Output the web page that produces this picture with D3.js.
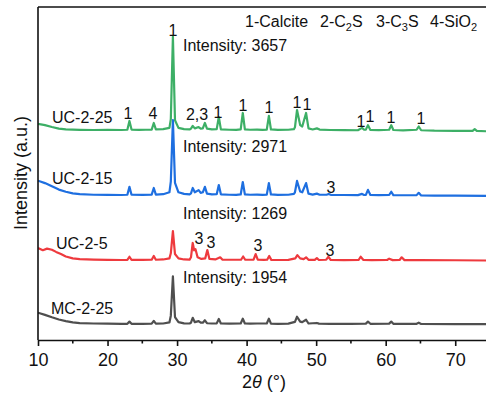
<!DOCTYPE html>
<html><head><meta charset="utf-8">
<script src="https://cdn.jsdelivr.net/npm/d3@7"></script>
<style>body{margin:0;background:#fff}svg{display:block;font-family:"Liberation Sans",Arial,sans-serif}</style>
</head><body><svg id="c" width="486" height="394"></svg>
<script>
// ---- data (2θ, counts) ----
const seriesNames = ["MC-2-25","UC-2-5","UC-2-15","UC-2-25"];
const seriesColors = ["#4f4f4f","#ee3a3e","#1e6fe0","#3daf66"];
const seriesOffsets = [400, 2760, 5165, 7570];
const peakIntensity = [1954, 1269, 2971, 3657];

const mc225 = [[10,610],[11,530],[12,440],[13,360],[14,300],[15,250],[16,225],[18,210],[20,205],[22,200],[22.85,200],[23.15,280],[23.45,200],[25,200],[26.35,205],[26.65,310],[26.95,205],[28,210],[28.9,250],[29.1,500],[29.4,1954],[29.7,450],[30.2,260],[31,215],[31.8,210],[32.0,240],[32.25,420],[32.55,260],[33.1,300],[33.4,240],[33.7,240],[34.0,330],[34.3,220],[35,210],[35.7,215],[36.0,380],[36.3,210],[37.5,205],[39.15,210],[39.45,390],[39.75,210],[40.5,205],[41.5,210],[42.9,210],[43.2,390],[43.5,205],[44.5,200],[46,205],[46.95,270],[47.25,460],[47.7,280],[48.0,260],[48.55,350],[48.9,210],[50.1,230],[50.4,205],[52,200],[55,200],[57.15,205],[57.45,280],[57.8,200],[60.5,205],[60.8,280],[61.1,200],[64.45,200],[64.75,240],[65.1,195],[70,190],[75,185]];

const uc25 = [[10,640],[10.7,560],[11.3,620],[12,580],[12.6,500],[13.3,420],[14,330],[15,260],[16,230],[18,215],[20,205],[22,200],[22.85,205],[23.15,320],[23.45,205],[25,205],[26.35,210],[26.65,350],[26.95,210],[28,220],[28.9,260],[29.1,450],[29.4,1269],[29.7,420],[30.2,260],[31,220],[31.8,215],[32.0,300],[32.25,830],[32.45,560],[32.65,600],[32.95,300],[33.5,240],[34.05,260],[34.35,570],[34.65,240],[35.5,220],[36.2,300],[36.5,215],[37.5,210],[39.2,210],[39.5,330],[39.8,210],[40.5,210],[41.0,215],[41.3,420],[41.6,210],[42.5,205],[42.95,210],[43.25,350],[43.55,205],[44.5,200],[46,205],[47.0,260],[47.3,380],[47.7,260],[48.2,230],[48.55,300],[48.9,205],[49.8,205],[50.1,270],[50.4,200],[51.45,210],[51.75,320],[52.1,200],[54,195],[56.1,200],[56.4,320],[56.8,200],[58,195],[60.2,200],[60.5,250],[61,195],[62.0,200],[62.3,300],[62.7,195],[65,195],[70,190],[75,180]];

const uc215 = [[10,730],[11,640],[12,520],[13,400],[14,320],[15,260],[16,230],[18,210],[20,205],[22,200],[22.85,210],[23.15,500],[23.45,210],[25,205],[26.35,215],[26.65,460],[26.95,215],[28,230],[28.9,300],[29.1,700],[29.4,2971],[29.7,650],[30.2,300],[31,240],[31.8,220],[32.0,260],[32.25,460],[32.55,300],[33.1,380],[33.4,280],[33.7,300],[34.0,500],[34.3,250],[35,220],[35.7,230],[36.0,570],[36.3,225],[37.5,210],[38.5,205],[39.15,220],[39.45,680],[39.75,225],[40.5,210],[41.5,215],[42.3,205],[42.9,215],[43.2,640],[43.5,220],[44.5,205],[46,210],[46.8,240],[46.95,300],[47.25,720],[47.7,330],[48.0,300],[48.55,640],[48.9,250],[49.5,215],[50.1,250],[50.5,210],[51.5,210],[51.8,240],[52.1,205],[54,200],[56,195],[56.6,240],[56.9,200],[57.15,205],[57.45,390],[57.8,200],[59,195],[60.5,200],[60.8,320],[61.1,195],[62.5,190],[64.45,195],[64.75,280],[65.1,185],[67,180],[70,175],[75,165]];

const uc225 = [[10,430],[11,380],[12,310],[13,250],[14,220],[16,205],[18,200],[20,205],[22,200],[22.85,210],[23.15,535],[23.45,215],[24.5,205],[25.5,210],[26.35,215],[26.65,460],[26.95,220],[28,230],[28.9,280],[29.1,600],[29.4,3657],[29.7,560],[30.2,280],[31,230],[31.8,220],[32.0,250],[32.25,350],[32.55,260],[33.1,310],[33.4,250],[33.7,260],[34.0,460],[34.3,250],[35,220],[35.7,230],[36.0,680],[36.3,225],[37.5,210],[38.5,205],[39.15,220],[39.45,830],[39.75,225],[40.5,210],[41.5,215],[42.3,205],[42.9,215],[43.2,720],[43.5,220],[44.5,205],[46,210],[46.8,230],[46.95,300],[47.25,940],[47.7,380],[48.0,330],[48.55,830],[48.9,260],[49.5,220],[50.1,260],[50.5,215],[52,200],[54,195],[56,190],[56.6,280],[56.9,210],[57.15,215],[57.45,380],[57.8,200],[59,195],[60.5,210],[60.8,380],[61.1,200],[62.5,185],[64.45,210],[64.75,330],[65.1,190],[67,175],[70,170],[72.5,165],[72.8,230],[73.1,165],[75,150]];

const seriesData = [mc225, uc25, uc215, uc225];

const xTicks = [10,20,30,40,50,60,70];
const xMinorTicks = [15,25,35,45,55,65,75];

// peak labels: [text, 2θ, series index]
const peakLabels = [
  ["1",23.15,3],["4",26.65,3],["1",29.4,3],["2,3",33.1,3],["1",36.0,3],["1",39.45,3],["1",43.2,3],
  ["1",47.25,3],["1",48.55,3],["1",56.6,3],["1",57.45,3],["1",60.8,3],["1",64.75,3],
  ["3",52.1,2],
  ["3",32.25,1],["3",34.35,1],["3",41.3,1],["3",51.75,1]
];
const legendItems = [["1-Calcite",""],["2-C","2","S"],["3-C","3","S"],["4-SiO","2",""]];

// ---- drawing ----
const svg = d3.select("#c");
const L = 38, R = 490, T = 7, B = 340;
const x = d3.scaleLinear().domain([10,75]).range([L,R]);
const y = d3.scaleLinear().domain([0,12321]).range([B,T]);

svg.append("clipPath").attr("id","clip").append("rect")
  .attr("x",L).attr("y",T).attr("width",R-L).attr("height",B-T);

const line = d3.line().x(d=>x(d[0])).y(d=>y(d[1]));
const g = svg.append("g").attr("clip-path","url(#clip)");
seriesData.forEach((s,i)=>{
  const off = seriesOffsets[i];
  g.append("path").datum(s.map(d=>[d[0], d[1]+off]))
    .attr("d",line).attr("fill","none")
    .attr("stroke",seriesColors[i]).attr("stroke-width",2.2)
    .attr("stroke-linejoin","round");
});

// axes
const ax = svg.append("g").attr("transform",`translate(0,${B})`)
  .call(d3.axisBottom(x).tickValues(xTicks).tickSize(6).tickSizeOuter(0).tickFormat(d3.format("d")));
ax.select(".domain").attr("stroke","#111").attr("stroke-width",1.6);
ax.selectAll(".tick line").attr("stroke","#111").attr("stroke-width",1.6);
ax.selectAll(".tick text").attr("font-size",18).attr("font-family","Liberation Sans, Arial, sans-serif")
  .attr("fill","#111").attr("dy","0.95em");
svg.append("g").selectAll("line").data(xMinorTicks).join("line")
  .attr("x1",d=>x(d)).attr("x2",d=>x(d)).attr("y1",B).attr("y2",B+3.5)
  .attr("stroke","#111").attr("stroke-width",1.6);
svg.append("line").attr("x1",L).attr("x2",L).attr("y1",T).attr("y2",B)
  .attr("stroke","#111").attr("stroke-width",1.6);
svg.append("line").attr("x1",L).attr("x2",486).attr("y1",T).attr("y2",T)
  .attr("stroke","#111").attr("stroke-width",1.6);

// axis titles
const xt = svg.append("text").attr("x",264).attr("y",388).attr("text-anchor","middle")
  .attr("font-size",18).attr("fill","#111");
xt.append("tspan").text("2");
xt.append("tspan").attr("font-style","italic").text("θ");
xt.append("tspan").text(" (°)");
svg.append("text").attr("transform","translate(27,173) rotate(-90)").attr("text-anchor","middle")
  .attr("font-size",18).attr("fill","#111").text("Intensity (a.u.)");

// series names
const nameX = [51,56,52,52], nameY = [308,243,178,117];
seriesNames.forEach((n,i)=>{
  svg.append("text").attr("x",nameX[i]).attr("y",nameY[i]).attr("dy","0.36em")
    .attr("font-size",16).attr("fill","#111").text(n);
});
// intensity notes
const noteY = [277,213,146,45];
peakIntensity.forEach((v,i)=>{
  svg.append("text").attr("x",183).attr("y",noteY[i]).attr("dy","0.36em")
    .attr("font-size",16).attr("fill","#111").text("Intensity: "+v);
});

// peak label layout (pixel positions, same order as peakLabels)
const labelXY = [[128,113],[153,113],[173,30],[197,114],[218,112],[243,105],[269,107],
  [297,102],[307,104],[361,121],[370,116],[391,117],[421,118],
  [331,187],
  [199,238],[211,242],[258,245],[330,250]];
peakLabels.forEach((p,i)=>{
  const pos = labelXY[i];
  svg.append("text").attr("x",pos[0]).attr("y",pos[1]).attr("dy","0.36em")
    .attr("text-anchor","middle").attr("font-size",16).attr("fill","#111").text(p[0]);
});

// legend
const legX = [245,320,376,430];
legendItems.forEach((it,i)=>{
  const t = svg.append("text").attr("x",legX[i]).attr("y",21).attr("dy","0.36em")
    .attr("font-size",16).attr("fill","#111");
  t.append("tspan").text(it[0]);
  if(it[1]) {
    t.append("tspan").attr("font-size",11).attr("dy",4).text(it[1]);
    t.append("tspan").attr("dy",-4).text(it[2]);
  }
});
</script></body></html>
